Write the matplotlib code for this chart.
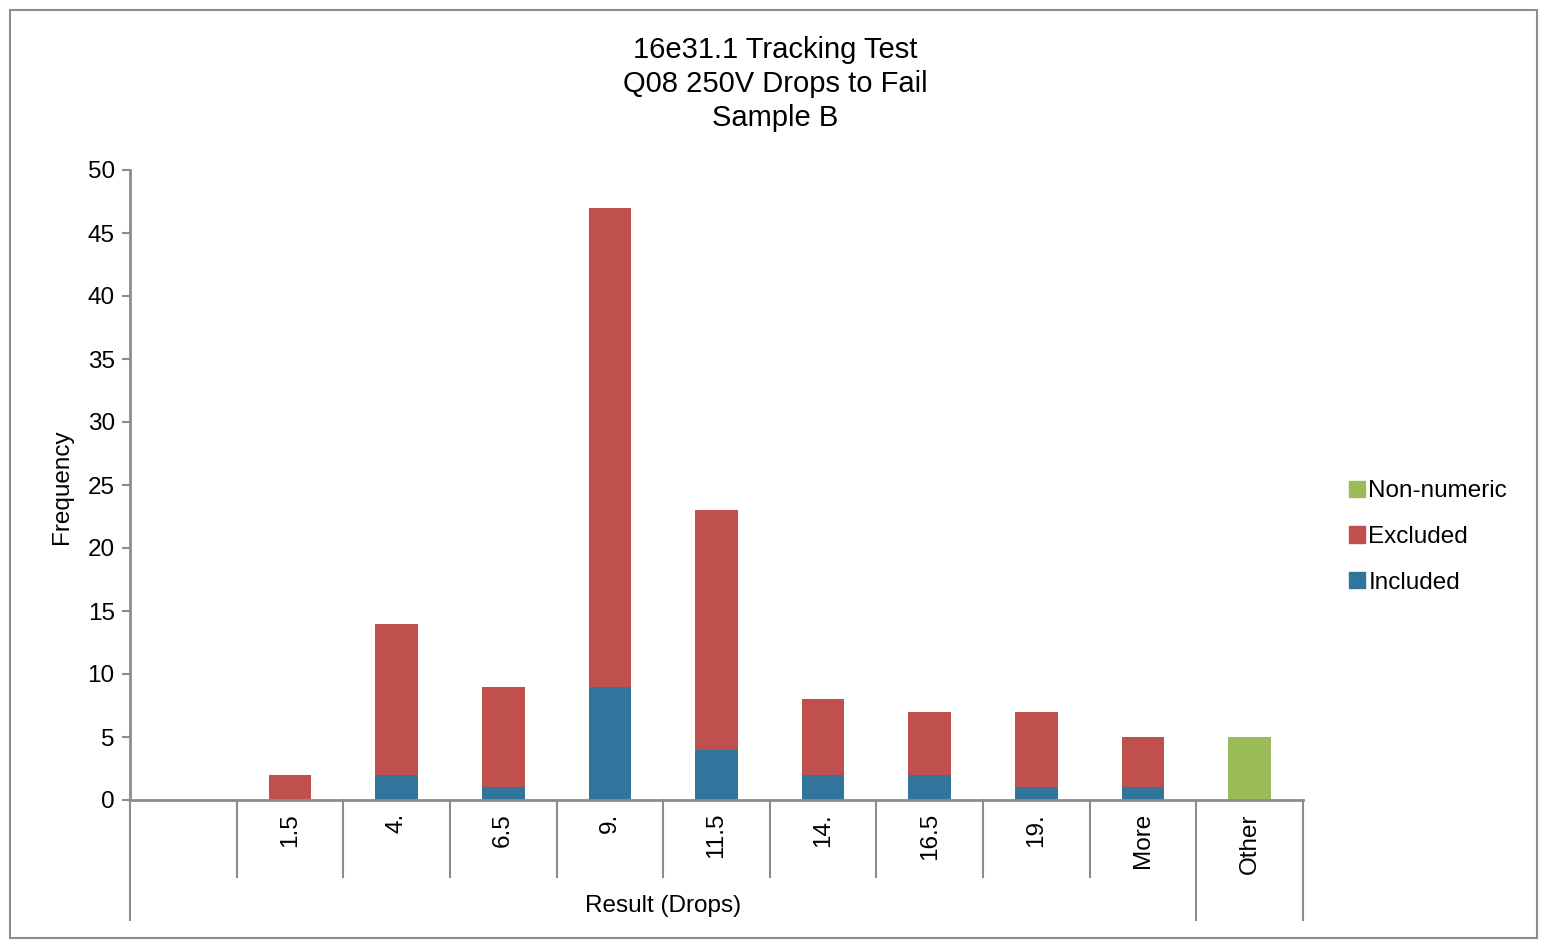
import matplotlib
matplotlib.use('Agg')
import matplotlib.pyplot as plt
from matplotlib.patches import Rectangle, Patch

plt.rcParams['font.family'] = ['Liberation Sans', 'DejaVu Sans']

# data
categories = ['', '1.5', '4.', '6.5', '9.', '11.5', '14.', '16.5', '19.', 'More', 'Other']
included = [0, 0, 2, 1, 9, 4, 2, 2, 1, 1, 0]
excluded = [0, 2, 12, 8, 38, 19, 6, 5, 6, 4, 0]
non_numeric = [0, 0, 0, 0, 0, 0, 0, 0, 0, 0, 5]
yticks = list(range(0, 51, 5))

c_inc = '#31749C'
c_exc = '#C0504D'
c_non = '#9BBB59'
grey = '#8C8C8C'
fs = 17.5

fig = plt.figure(figsize=(15.5, 9.44), dpi=100)
ax = fig.add_axes([130/1550, 1-800/944, (1303-130)/1550, 630/944])

x = list(range(len(categories)))
w = 0.4
ax.bar(x, included, w, color=c_inc, label='Included')
ax.bar(x, excluded, w, bottom=included, color=c_exc, label='Excluded')
ax.bar(x, non_numeric, w, color=c_non, label='Non-numeric')

ax.set_xlim(-0.5, len(categories) - 0.5)
ax.set_ylim(0, 50)
ax.set_yticks(yticks)
ax.tick_params(axis='y', labelsize=fs, length=6, width=1.5, color=grey, pad=5)
ax.set_xticks([])
for s in ['top', 'right']:
    ax.spines[s].set_visible(False)
for s in ['left', 'bottom']:
    ax.spines[s].set_color(grey)
    ax.spines[s].set_linewidth(2)

# category labels and separators
tr = ax.get_xaxis_transform()
h = 630.0
for i, lab in enumerate(categories):
    ax.text(i, -13/h, lab, transform=tr, rotation=90, ha='center', va='top', fontsize=fs)
for b in range(len(categories) + 1):
    xb = b - 0.5
    y2 = -120/h if b in (0, 10, 11) else -77/h
    ax.plot([xb, xb], [0, y2], transform=tr, color=grey, lw=1.5, clip_on=False)

ax.text(4.5, -106/h, 'Result (Drops)', transform=tr, ha='center', va='center', fontsize=fs)
fig.text(62/1550, 1-487/944, 'Frequency', rotation=90, ha='center', va='center', fontsize=fs)

fig.text(0.5, 1-84/944, '16e31.1 Tracking Test\nQ08 250V Drops to Fail\nSample B',
         ha='center', va='center', fontsize=21, linespacing=1.28)

handles = [Patch(color=c_non, label='Non-numeric'),
           Patch(color=c_exc, label='Excluded'),
           Patch(color=c_inc, label='Included')]
fig.legend(handles=handles, loc='center left', bbox_to_anchor=(1327/1550, 1-537/944),
           frameon=False, fontsize=17.5, handlelength=0.65, handleheight=0.65,
           handletextpad=0.15, labelspacing=0.97)

fig.patches.append(Rectangle((10/1550, 6/944), 1527/1550, 928/944, transform=fig.transFigure,
                             fill=False, edgecolor=grey, lw=1.5))

fig.savefig('out.png', dpi=100)
